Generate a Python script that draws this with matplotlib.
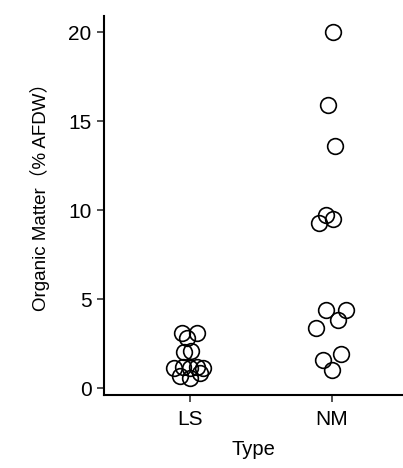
import numpy as np
import matplotlib
matplotlib.use("Agg")
import matplotlib.pyplot as plt

plt.rcParams['font.family'] = ['Liberation Sans', 'Noto Sans CJK SC', 'DejaVu Sans']

# data
categories = ["LS", "NM"]
ls_values = [3.1, 3.1, 2.8, 2.0, 2.1, 1.1, 1.2, 1.1, 1.2, 1.1, 0.7, 0.55, 0.85]
ls_jitter = [-0.06, 0.05, -0.02, -0.04, 0.01, -0.11, -0.05, 0.0, 0.05, 0.09, -0.07, 0.0, 0.07]
nm_values = [20.0, 15.9, 13.6, 9.7, 9.3, 9.5, 4.4, 4.4, 3.8, 3.4, 1.6, 1.9, 1.0]
nm_jitter = [0.01, -0.03, 0.02, -0.04, -0.09, 0.01, -0.04, 0.1, 0.04, -0.11, -0.06, 0.06, 0.0]
yticks = [0, 5, 10, 15, 20]

fig = plt.figure(figsize=(4.03, 4.68), dpi=100)
ax = fig.add_axes([104 / 403, 73 / 468, 299 / 403, 379 / 468])

for i, (vals, jit) in enumerate([(ls_values, ls_jitter), (nm_values, nm_jitter)]):
    xs = np.array(jit) + i + 1
    ax.plot(xs, vals, 'o', ms=11.3, mfc='none', mec='black', mew=1.2, ls='none')

ax.set_xlim(0.394, 2.5)
ax.set_ylim(-0.39, 20.9)
ax.set_xticks([1, 2])
ax.set_xticklabels(categories)
ax.set_yticks(yticks)

for s in ['top', 'right']:
    ax.spines[s].set_visible(False)
for s in ['left', 'bottom']:
    ax.spines[s].set_linewidth(1.5)
ax.tick_params(width=1.2, length=5, labelsize=15, color='#333333')
ax.tick_params(axis='x', pad=6)
ax.tick_params(axis='y', pad=4)

ax.set_xlabel("Type", fontsize=14.5, labelpad=8)
ax.set_ylabel("Organic Matter（% AFDW）", fontsize=13.5)
ax.yaxis.set_label_coords(-0.18, 0.535)

fig.savefig("out.png", dpi=100)
